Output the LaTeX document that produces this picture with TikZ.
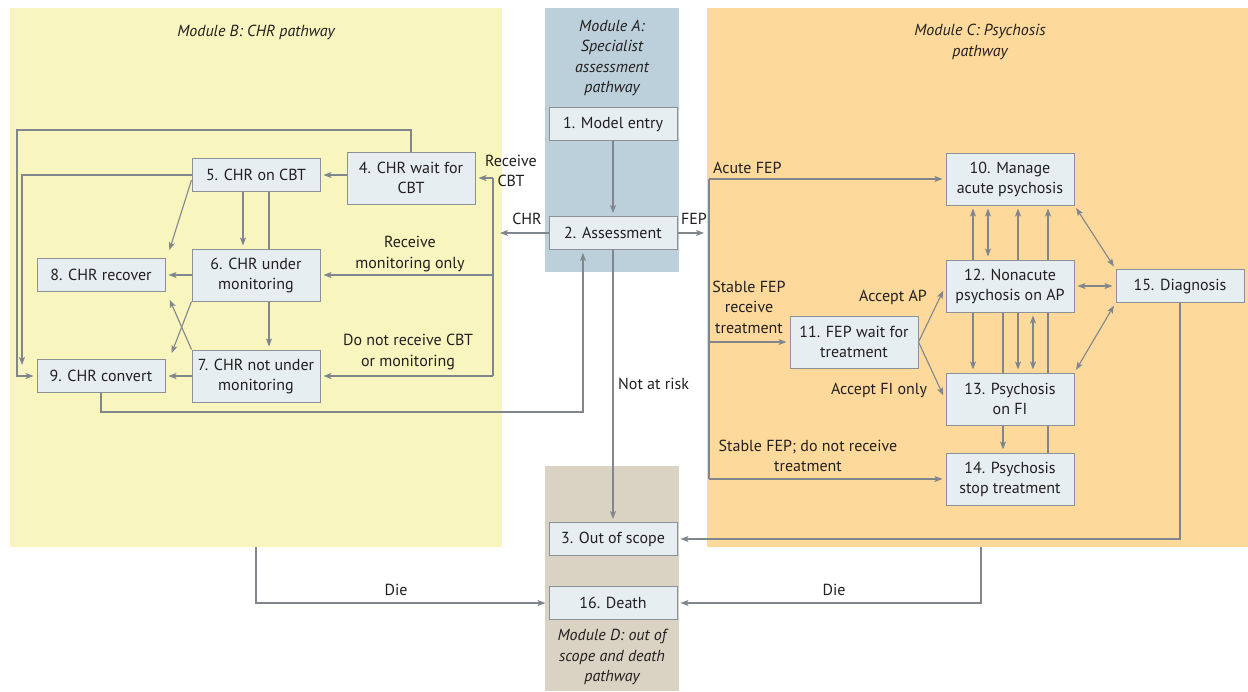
\documentclass[tikz,border=0pt]{standalone}
\usepackage{fontspec}
\setmainfont{PT Sans}
\usetikzlibrary{arrows.meta,calc}
\definecolor{bgB}{HTML}{F9F5BF}
\definecolor{bgA}{HTML}{BBD0DA}
\definecolor{bgC}{HTML}{FDDA9B}
\definecolor{bgD}{HTML}{DAD2C3}
\definecolor{boxfill}{HTML}{E7EEF2}
\definecolor{boxline}{HTML}{8C9196}
\definecolor{conn}{HTML}{80868C}
\definecolor{txt}{HTML}{231F20}
\pgfdeclarelayer{back}
\pgfdeclarelayer{wires}
\pgfsetlayers{back,wires,main}
\tikzset{
  box/.style={draw=boxline, fill=boxfill, line width=1pt, minimum width=128pt, minimum height=33pt, align=center, inner sep=1pt, text=txt, font=\fontsize{16}{20}\selectfont},
  tallbox/.style={box, minimum height=52pt},
  conline/.style={draw=conn, line width=1.1pt},
  arr/.style={conline, -{Stealth[length=8pt,width=6pt,inset=2pt]}, shorten >=3pt},
  darr/.style={conline, {Stealth[length=8pt,width=6pt,inset=2pt]}-{Stealth[length=8pt,width=6pt,inset=2pt]}, shorten >=3pt, shorten <=3pt},
  lbl/.style={text=txt, align=center, inner sep=0pt, font=\fontsize{16}{20.5}\selectfont},
  title/.style={text=txt, align=center, inner sep=0pt, font=\fontsize{16}{20.5}\selectfont\itshape}
}
\begin{document}
\begin{tikzpicture}[x=1pt,y=-1pt]
\useasboundingbox (0,0) rectangle (1248,691);
\begin{pgfonlayer}{back}
\fill[white] (0,0) rectangle (1248,691);
\fill[bgB] (10,8) rectangle (502,547);
\fill[bgA] (545,8) rectangle (679,272);
\fill[bgC] (707,8) rectangle (1248,547);
\fill[bgD] (545,466) rectangle (679,691);
\end{pgfonlayer}
% titles
\node[title] (tB) at (256,32) {Module B: CHR pathway};
\node[title] (tA) at (612,58) {Module A:\\Specialist\\assessment\\pathway};
\node[title] (tC) at (980,42) {Module C: Psychosis\\pathway};
\node[title] (tD) at (612,657) {Module D: out of\\scope and death\\pathway};
% coordinates
\coordinate (tr1) at (493,178);
\coordinate (chrEnd) at (497,233);
\coordinate (fepEnd) at (707,233);
\coordinate (r9) at (583,412);
\coordinate (loopTop) at (17,130);
\coordinate (inner5) at (22,368);
\coordinate (c1) at (709,179);
\coordinate (c2) at (709,479);
\coordinate (bBot) at (256,547);
\coordinate (cBot) at (981,547);
% boxes
\path
  (613,124) node[box] (n1) {1. Model entry}
  (613,233) node[box] (n2) {2. Assessment}
  (613,539) node[box] (n3) {3. Out of scope}
  (613,603) node[box] (n16) {16. Death}
  (411,178) node[tallbox] (n4) {4. CHR wait for\\CBT}
  (256,175) node[box] (n5) {5. CHR on CBT}
  (256,275) node[tallbox] (n6) {6. CHR under\\monitoring}
  (256,376) node[tallbox] (n7) {7. CHR not under\\monitoring}
  (101,275) node[box] (n8) {8. CHR recover}
  (101,376) node[box] (n9) {9. CHR convert}
  (1010,179) node[tallbox] (n10) {10. Manage\\acute psychosis}
  (1010,286) node[tallbox] (n12) {12. Nonacute\\psychosis on AP}
  (854,342) node[tallbox] (n11) {11. FEP wait for\\treatment}
  (1010,399) node[tallbox] (n13) {13. Psychosis\\on FI}
  (1010,479) node[tallbox] (n14) {14. Psychosis\\stop treatment}
  (1180,286) node[box] (n15) {15. Diagnosis};
\begin{pgfonlayer}{wires}
% Module B
\draw[arr] (n4.north) |- (loopTop) |- (n9.west);
\draw[arr] (n5.west) -| (inner5);
\draw[arr] (n4.west |- n5.east) -- (n5.east);
\draw[arr] ([yshift=-5pt]n5.west) -- ([shift={(3pt,5pt)}]n8.north east);
\draw[arr] ([xshift=-13pt]n5.south) -- ([xshift=-13pt]n6.north);
\draw[conline] ([xshift=13pt]n5.south) -- ([xshift=13pt]n6.north);
\draw[arr] ([xshift=13pt]n6.south) -- ([xshift=13pt]n7.north);
\draw[arr] (n6.west) -- (n8.east);
\draw[arr] (n6.south west) -- ([shift={(5pt,3pt)}]n9.north east);
\draw[arr] (n7.north west) -- ([shift={(3pt,-5pt)}]n8.south east);
\draw[arr] (n7.west) -- (n9.east);
\draw[arr] (n9.south) |- (r9) -- (r9 |- n2.south);
% CHR trunk
\draw[arr] (n2.west) -- (chrEnd);
\draw[conline] (tr1) -- (tr1 |- n7.east);
\draw[arr] (tr1) -- (n4.east);
\draw[arr] (tr1 |- n6.east) -- (n6.east);
\draw[arr] (tr1 |- n7.east) -- (n7.east);
% Module A
\draw[arr] (n1) -- (n2);
\draw[arr] (n2) -- (n3);
\draw[arr] (n2.east) -- (fepEnd);
% Module C
\draw[conline] (c1) -- (c2);
\draw[arr] (c1) -- (n10.west);
\draw[arr] (c1 |- n11.west) -- (n11.west);
\draw[arr] (c2) -- (n14.west);
\draw[arr] (n11.east) -- ([shift={(-1pt,-2pt)}]n12.west);
\draw[arr] (n11.east) -- ([shift={(-1pt,1pt)}]n13.west);
\draw[arr] ([xshift=-37pt]n12.north) -- ([xshift=-37pt]n10.south);
\draw[darr] ([xshift=-22pt]n12.north) -- ([xshift=-22pt]n10.south);
\draw[arr] ([xshift=8pt]n12.north) -- ([xshift=8pt]n10.south);
\draw[arr] ([xshift=38pt]n14.north) -- ([xshift=38pt]n10.south);
\draw[arr] ([xshift=-37pt]n12.south) -- ([xshift=-37pt]n13.north);
\draw[arr] ([xshift=-7pt]n12.south) -- ([xshift=-7pt]n14.north);
\draw[arr] ([xshift=8pt]n12.south) -- ([xshift=8pt]n13.north);
\draw[darr] ([xshift=23pt]n12.south) -- ([xshift=23pt]n13.north);
\draw[darr] (n10.south east) -- (n15.north west);
\draw[darr] (n12.east) -- (n15.west);
\draw[darr] (n13.north east) -- (n15.south west);
\draw[arr] (n15.south) |- (n3.east);
% Die
\draw[arr] (bBot) |- (n16.west);
\draw[arr] (cBot) |- (n16.east);
\end{pgfonlayer}
% labels
\node[lbl] (lCHR) at (527,219) {CHR};
\node[lbl] (lRecCBT) at (511,171) {Receive\\CBT};
\node[lbl] (lRecMon) at (410,254) {Receive\\monitoring only};
\node[lbl] (lDoNot) at (408,352) {Do not receive CBT\\or monitoring};
\node[lbl, anchor=west] (lNot) at (618,384) {Not at risk};
\node[lbl] (lFEP) at (694,219) {FEP};
\node[lbl, anchor=west] (lAcute) at (713,168) {Acute FEP};
\node[lbl] (lStable) at (749,307) {Stable FEP\\receive\\treatment};
\node[lbl] (lStable2) at (808,456) {Stable FEP; do not receive\\treatment};
\node[lbl] (lAP) at (893,297) {Accept AP};
\node[lbl] (lFI) at (879,390) {Accept FI only};
\node[lbl] (lDie1) at (396,590) {Die};
\node[lbl] (lDie2) at (834,590) {Die};
\end{tikzpicture}
\end{document}
